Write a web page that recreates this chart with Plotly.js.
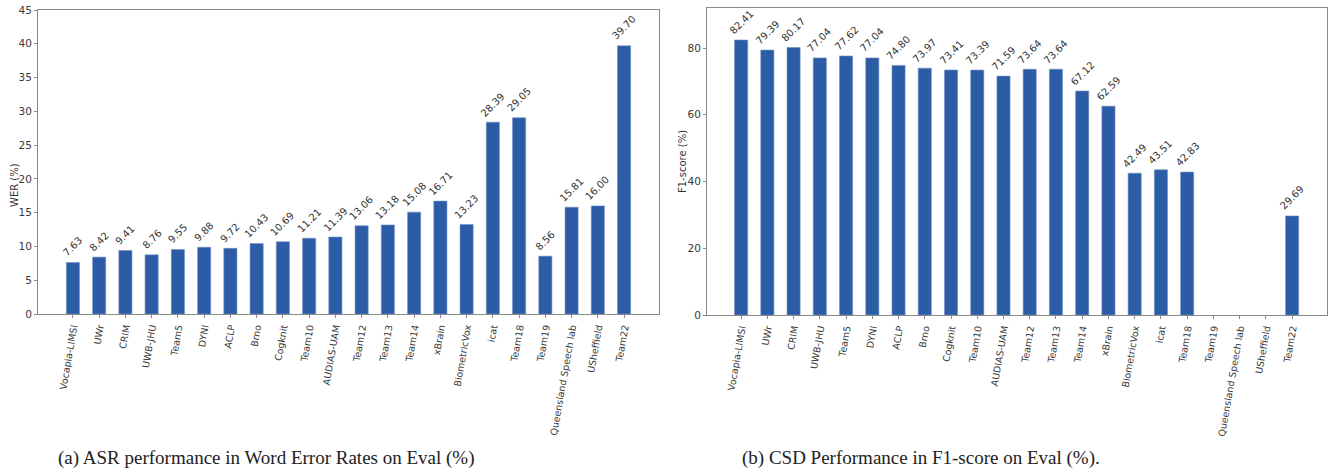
<!DOCTYPE html>
<html>
<head>
<meta charset="utf-8">
<script src="https://cdn.plot.ly/plotly-3.0.1.min.js"></script>
<style>html,body{margin:0;padding:0;background:#fff;}#chart{width:1337px;height:475px;}</style>
</head>
<body>
<div id="chart"></div>
<script>
const teams = ["Vocapia-LIMSI","UWr","CRIM","UWB-JHU","Team5","DYNI","ACLP","Brno","Cogknit","Team10","AUDIAS-UAM","Team12","Team13","Team14","xBrain","BiometricVox","icat","Team18","Team19","Queensland Speech lab","USheffield","Team22"];
const werValues = [7.63,8.42,9.41,8.76,9.55,9.88,9.72,10.43,10.69,11.21,11.39,13.06,13.18,15.08,16.71,13.23,28.39,29.05,8.56,15.81,16.00,39.70];
const f1Values = [82.41,79.39,80.17,77.04,77.62,77.04,74.80,73.97,73.41,73.39,71.59,73.64,73.64,67.12,62.59,42.49,43.51,42.83,null,null,null,29.69];
const werTicks = [0,5,10,15,20,25,30,35,40,45];
const f1Ticks = [0,20,40,60,80];
const captionA = "(a) ASR performance in Word Error Rates on Eval (%)";
const captionB = "(b) CSD Performance in F1-score on Eval (%).";

const barColor = "#2c5ca6";
const txtColor = "#333333";
const fnt = "DejaVu Sans, sans-serif";

function fmt(v){ return v.toFixed(2); }

const traces = [
  {type:"bar", x:teams, y:werValues, xaxis:"x", yaxis:"y", width:0.5,
   marker:{color:barColor, line:{color:"#6f8fc4", width:0.6}}, hoverinfo:"x+y"},
  {type:"bar", x:teams, y:f1Values, xaxis:"x2", yaxis:"y2", width:0.5,
   marker:{color:barColor, line:{color:"#6f8fc4", width:0.6}}, hoverinfo:"x+y"}
];

const W = 1337, H = 475;
function xd(a,b){ return [a/W, b/W]; }
function yd(bottom, top){ return [(H-bottom)/H, (H-top)/H]; }

const axCommon = {showline:true, mirror:true, linecolor:"#8a8a8a", linewidth:1, showgrid:false, zeroline:false,
  ticks:"outside", ticklen:3, tickcolor:"#8a8a8a", tickfont:{family:fnt, size:10.5, color:"#3a3a3a"}};

const annotations = [
  {text:"WER (%)", xref:"paper", yref:"paper", x:14/W, y:(H-185)/H, textangle:-90, showarrow:false,
   font:{family:fnt, size:10, color:"#333"}, xanchor:"center", yanchor:"middle"},
  {text:"F1-score (%)", xref:"paper", yref:"paper", x:682/W, y:(H-162)/H, textangle:-90, showarrow:false,
   font:{family:fnt, size:10, color:"#333"}, xanchor:"center", yanchor:"middle"},
  {text:captionA, xref:"paper", yref:"paper", x:266/W, y:(H-458)/H, showarrow:false,
   font:{family:"Liberation Serif, Times New Roman, serif", size:19, color:"#222"}, xanchor:"center", yanchor:"middle"},
  {text:captionB, xref:"paper", yref:"paper", x:921/W, y:(H-458)/H, showarrow:false,
   font:{family:"Liberation Serif, Times New Roman, serif", size:19, color:"#222"}, xanchor:"center", yanchor:"middle"}
];

function addValueLabels(values, xref, yref){
  values.forEach(function(v, i){
    if (v === null) return;
    annotations.push({text:fmt(v), x:teams[i], y:v, xref:xref, yref:yref, showarrow:false,
      textangle:-45, xanchor:"center", yanchor:"bottom", yshift:1,
      font:{family:fnt, size:10, color:txtColor}});
  });
}
addValueLabels(werValues, "x", "y");
addValueLabels(f1Values, "x2", "y2");

const layout = {
  width:W, height:H, margin:{l:0,r:0,t:0,b:0}, paper_bgcolor:"#fff", plot_bgcolor:"#fff",
  showlegend:false,
  xaxis:Object.assign({}, axCommon, {domain:xd(38,659), anchor:"y", type:"category", range:[-1.33,22.33],
    tickangle:-80, tickfont:{family:fnt, size:9.5, color:"#3a3a3a"}}),
  yaxis:Object.assign({}, axCommon, {domain:yd(314,10), anchor:"x", range:[0,45], tickvals:werTicks}),
  xaxis2:Object.assign({}, axCommon, {domain:xd(707,1327), anchor:"y2", type:"category", range:[-1.30,22.33],
    tickangle:-80, tickfont:{family:fnt, size:9.5, color:"#3a3a3a"}}),
  yaxis2:Object.assign({}, axCommon, {domain:yd(315,8), anchor:"x2", range:[0,92], tickvals:f1Ticks}),
  annotations:annotations
};

Plotly.newPlot("chart", traces, layout, {displayModeBar:false, staticPlot:true});
</script>
</body>
</html>
